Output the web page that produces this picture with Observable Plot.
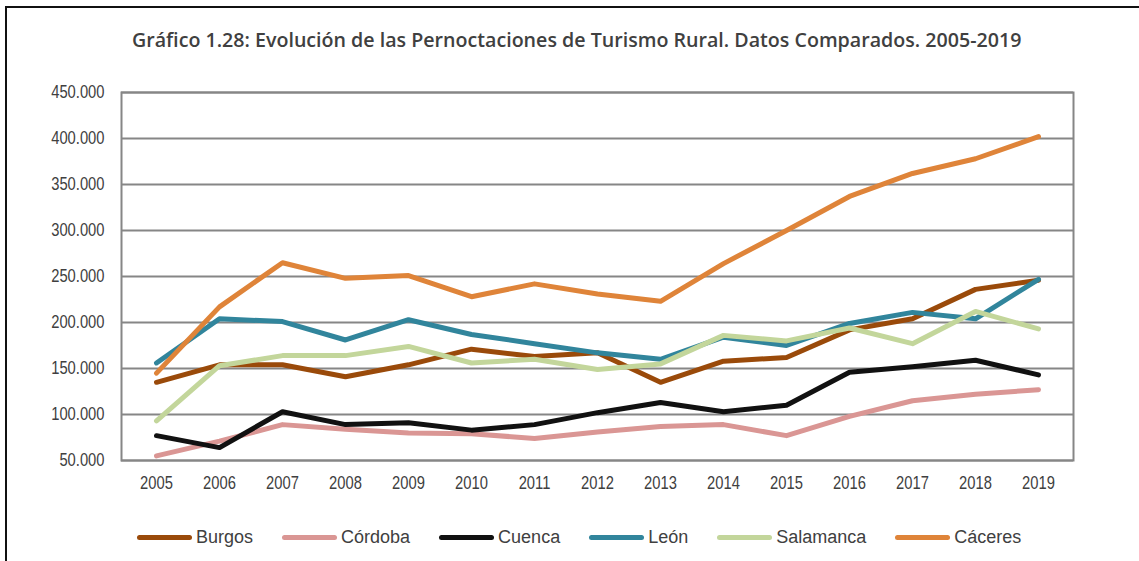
<!DOCTYPE html>
<html>
<head>
<meta charset="utf-8">
<script src="https://cdn.jsdelivr.net/npm/d3@7"></script>
<script src="https://cdn.jsdelivr.net/npm/@observablehq/plot@0.6"></script>
<style>
  body { margin: 0; background: #fff; width: 1139px; height: 561px; overflow: hidden; position: relative; }
  #frame { position: absolute; left: 5px; top: 6px; width: 1200px; height: 700px; border-left: 2px solid #111; border-top: 2px solid #111; }
  #title { position: absolute; left: 132px; top: 26px; white-space: nowrap; font-family: "Open Sans", "Noto Sans", sans-serif; font-weight: 600; color: #404040; font-size: 16px; }
  #chart { position: absolute; left: 0; top: 0; }
  #legend { position: absolute; left: 137px; top: 527px; display: flex; gap: 29px; font-family: "Liberation Sans", Arial, sans-serif; font-size: 18px; color: #404040; }
  .item { display: flex; align-items: center; gap: 4px; }
  .sw { width: 55px; height: 5px; border-radius: 3px; }
</style>
</head>
<body>
<div id="frame"></div>
<div id="title">Gráfico 1.28: Evolución de las Pernoctaciones de Turismo Rural. Datos Comparados. 2005-2019</div>
<div id="chart"></div>
<div id="legend"></div>
<script>
const years = ["2005","2006","2007","2008","2009","2010","2011","2012","2013","2014","2015","2016","2017","2018","2019"];
const seriesNames = ["Burgos","Córdoba","Cuenca","León","Salamanca","Cáceres"];
const seriesColors = ["#9A4A0A","#DA9694","#111111","#31859C","#C3D69B","#DF8439"];
const yTicks = [50000,100000,150000,200000,250000,300000,350000,400000,450000];

const burgos    = [135000,154000,154000,141000,154000,171000,163000,167000,135000,158000,162000,192000,204000,236000,246000];
const cordoba   = [55000,71000,89000,84000,80000,79000,74000,81000,87000,89000,77000,98000,115000,122000,127000];
const cuenca    = [77000,64000,103000,89000,91000,83000,89000,102000,113000,103000,110000,146000,152000,159000,143000];
const leon      = [156000,204000,201000,181000,203000,187000,177000,167000,160000,184000,175000,199000,211000,204000,247000];
const salamanca = [93000,153000,164000,164000,174000,156000,160000,149000,155000,186000,180000,194000,177000,212000,193000];
const caceres   = [145000,217000,265000,248000,251000,228000,242000,231000,223000,264000,300000,337000,362000,378000,402000];

const seriesValues = [burgos, cordoba, cuenca, leon, salamanca, caceres];

const data = [];
seriesNames.forEach((name, i) => {
  years.forEach((yr, j) => data.push({serie: name, year: yr, value: seriesValues[i][j]}));
});

const es = d3.formatLocale({decimal: ",", thousands: ".", grouping: [3], currency: ["", "€"]});
const fmt = es.format(",");

const chart = Plot.plot({
  width: 1139,
  height: 500,
  marginTop: 92,
  marginBottom: 40,
  marginLeft: 121,
  marginRight: 66,
  style: {fontFamily: '"Liberation Sans", Arial, sans-serif', fontSize: "18px", color: "#404040", background: "transparent"},
  x: {type: "point", domain: years, padding: 0.5, label: null, tickSize: 0, tickPadding: 16},
  y: {domain: [50000, 450000], ticks: yTicks, tickFormat: fmt, label: null, tickSize: 0, tickPadding: 17},
  color: {domain: seriesNames, range: seriesColors},
  marks: [
    Plot.gridY(yTicks, {stroke: "#868686", strokeOpacity: 1, strokeWidth: 2}),
    Plot.frame({stroke: "#868686", strokeWidth: 2}),
    Plot.line(data, {x: "year", y: "value", z: "serie", stroke: "serie", strokeWidth: 5, strokeLinejoin: "round", strokeLinecap: "round"})
  ]
});
document.getElementById("chart").appendChild(chart);

// condense axis tick labels horizontally (reference uses a narrow face)
chart.querySelectorAll('g[aria-label$="tick label"] text').forEach(t => {
  const tr = t.getAttribute("transform");
  if (tr) {
    t.setAttribute("transform", tr + " scale(0.82,1)");
  } else {
    const x = +t.getAttribute("x") || 0, y = +t.getAttribute("y") || 0;
    t.setAttribute("x", 0); t.setAttribute("y", 0);
    t.setAttribute("transform", `translate(${x},${y}) scale(0.82,1)`);
  }
});

const legend = document.getElementById("legend");
seriesNames.forEach((name, i) => {
  const it = document.createElement("div");
  it.className = "item";
  const sw = document.createElement("div");
  sw.className = "sw";
  sw.style.background = seriesColors[i];
  const t = document.createElement("span");
  t.textContent = name;
  it.appendChild(sw); it.appendChild(t);
  legend.appendChild(it);
});

// fit title width to reference span
const title = document.getElementById("title");
const w = title.getBoundingClientRect().width;
title.style.fontSize = (16 * 890 / w) + "px";
</script>
</body>
</html>
